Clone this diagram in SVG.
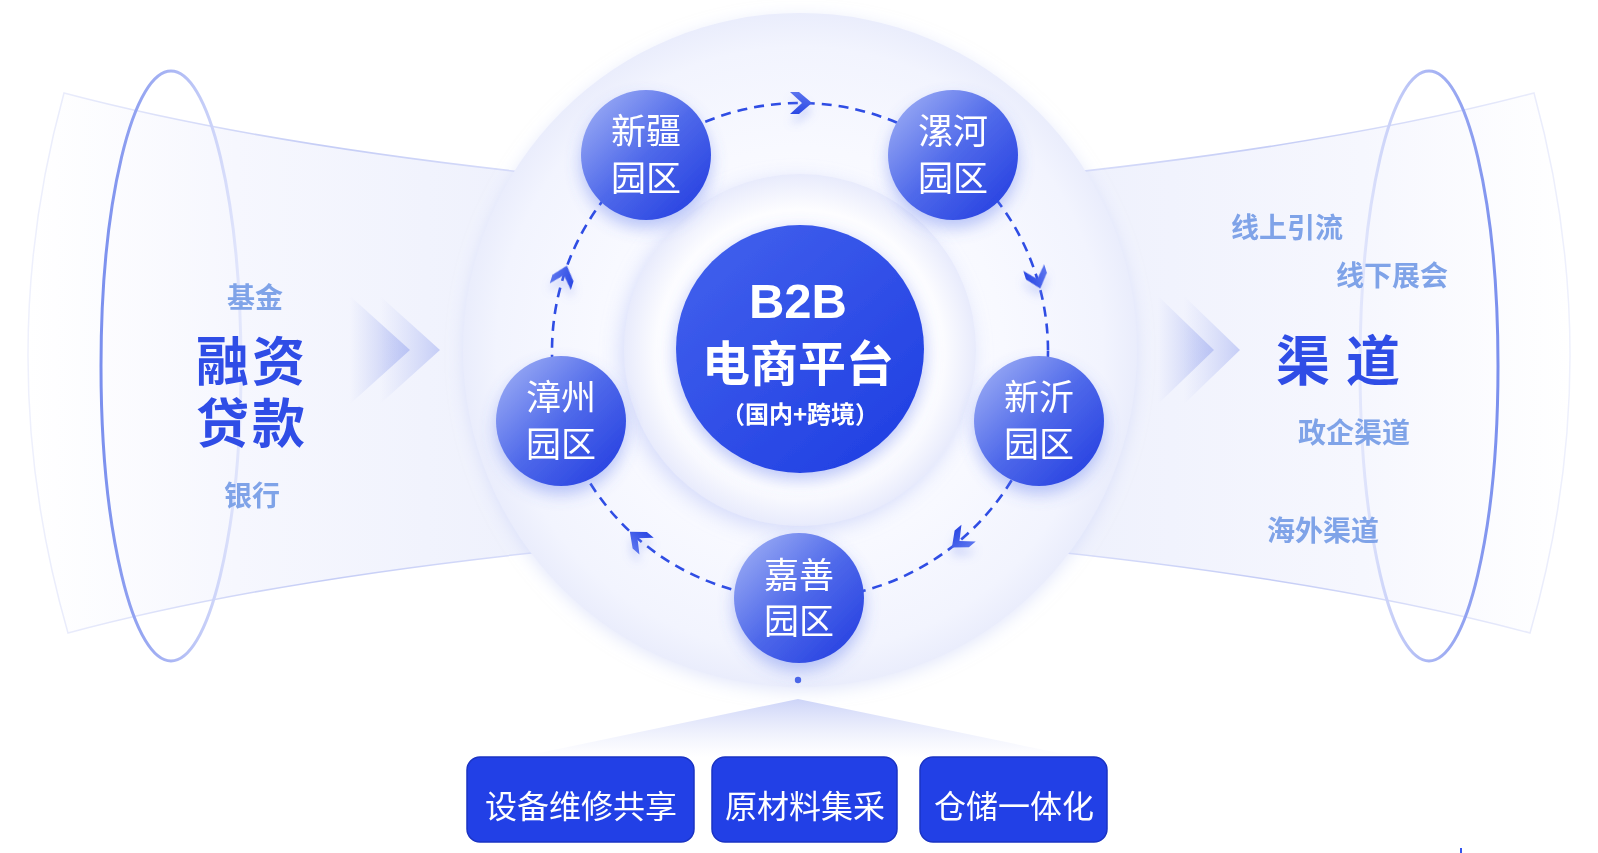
<svg xmlns="http://www.w3.org/2000/svg" width="1598" height="853" viewBox="0 0 1598 853">
<defs>
<style>
.cjk{font-family:"Noto Sans CJK SC","Noto Sans",sans-serif;}
.big{font-size:54px;font-weight:700;fill:#2f4de6;}
.fin{font-family:"Liberation Sans","Noto Sans CJK SC",sans-serif;font-size:53px;font-weight:700;fill:#2f4de6;letter-spacing:3px;}
.sub{font-size:28px;font-weight:700;fill:#7fa3e8;}
.node{font-size:35px;font-weight:400;fill:#ffffff;}
.box{fill:#2240e6;stroke:#1a33c4;stroke-width:1.5;}
.boxt{font-size:32px;font-weight:400;fill:#ffffff;}
.ring{fill:none;stroke:#2f4de4;stroke-width:2.6;stroke-dasharray:10 7;}
.arrow{fill:url(#arrG);}
</style>
<linearGradient id="funG" x1="0" y1="0" x2="1" y2="0">
<stop offset="0" stop-color="#ffffff" stop-opacity="0.9"/>
<stop offset="0.35" stop-color="#f6f7fe"/>
<stop offset="1" stop-color="#eceffc"/>
</linearGradient>
<linearGradient id="funS" x1="0" y1="0" x2="1" y2="0">
<stop offset="0" stop-color="#eef0fc"/>
<stop offset="0.5" stop-color="#c5cdf6"/>
<stop offset="1" stop-color="#dfe3fb"/>
</linearGradient>
<linearGradient id="ellL" x1="0" y1="0" x2="1" y2="0">
<stop offset="0" stop-color="#7b90ee"/>
<stop offset="0.5" stop-color="#aab6f4"/>
<stop offset="1" stop-color="#e3e7fc"/>
</linearGradient>
<linearGradient id="ellR" x1="1" y1="0" x2="0" y2="0">
<stop offset="0" stop-color="#7b90ee"/>
<stop offset="0.5" stop-color="#aab6f4"/>
<stop offset="1" stop-color="#e3e7fc"/>
</linearGradient>
<linearGradient id="chevL" x1="0" y1="0" x2="1" y2="0">
<stop offset="0" stop-color="#c3cbf5" stop-opacity="0"/>
<stop offset="1" stop-color="#b7c1f4"/>
</linearGradient>
<radialGradient id="outerG" cx="0.5" cy="0.5" r="0.5">
<stop offset="0" stop-color="#ffffff"/>
<stop offset="0.6" stop-color="#f8f9ff"/>
<stop offset="0.9" stop-color="#f2f4fe"/>
<stop offset="1" stop-color="#eaedfc"/>
</radialGradient>
<radialGradient id="innerG" cx="0.5" cy="0.5" r="0.5">
<stop offset="0" stop-color="#ffffff"/>
<stop offset="0.8" stop-color="#fdfdff"/>
<stop offset="1" stop-color="#e8ebfc"/>
</radialGradient>
<linearGradient id="centerG" x1="0.15" y1="0.1" x2="0.85" y2="0.9">
<stop offset="0" stop-color="#3f5eec"/>
<stop offset="1" stop-color="#2241e3"/>
</linearGradient>
<linearGradient id="nodeG" x1="0.1" y1="0.15" x2="0.85" y2="0.9">
<stop offset="0" stop-color="#91a3f3"/>
<stop offset="0.5" stop-color="#4f69ea"/>
<stop offset="1" stop-color="#2a45e2"/>
</linearGradient>
<linearGradient id="arrG" x1="0" y1="0" x2="0" y2="1">
<stop offset="0" stop-color="#5b74ef"/>
<stop offset="1" stop-color="#2b49e4"/>
</linearGradient>
<linearGradient id="fanG" x1="0" y1="0" x2="0" y2="1">
<stop offset="0" stop-color="#cdd4f8"/>
<stop offset="1" stop-color="#ffffff" stop-opacity="0.6"/>
</linearGradient>
<filter id="nodeSh" x="-40%" y="-40%" width="180%" height="190%">
<feDropShadow dx="0" dy="8" stdDeviation="8" flood-color="#5a74ee" flood-opacity="0.4"/>
</filter>
<filter id="centerSh" x="-30%" y="-30%" width="160%" height="170%">
<feDropShadow dx="0" dy="6" stdDeviation="9" flood-color="#5f79f0" flood-opacity="0.45"/>
</filter>
<filter id="ringSh" x="-20%" y="-20%" width="140%" height="140%">
<feDropShadow dx="-4" dy="6" stdDeviation="10" flood-color="#aab6f5" flood-opacity="0.45"/>
</filter>
<filter id="outerSh" x="-10%" y="-10%" width="120%" height="120%">
<feDropShadow dx="0" dy="4" stdDeviation="8" flood-color="#c9d1f7" flood-opacity="0.5"/>
</filter>
<filter id="arrSh" x="-150%" y="-150%" width="400%" height="400%">
<feDropShadow dx="0" dy="8" stdDeviation="5" flood-color="#8296f1" flood-opacity="0.35"/>
</filter>
<path id="arrowHead" d="M 12 0 L -1 -11 L -10 -11 L 2 0 L -10 11 L -1 11 Z"/>
</defs>

<rect x="0" y="0" width="1598" height="853" fill="#ffffff"/>

<!-- funnels -->
<g id="funnel-left">
<path d="M 64 93 Q 280 150 620 182 L 620 544 Q 280 576 68 633 Q -10 362 64 93 Z" fill="url(#funG)" stroke="url(#funS)" stroke-width="1.5"/>
</g>
<g id="funnel-right" transform="translate(1598,0) scale(-1,1)">
<path d="M 64 93 Q 280 150 620 182 L 620 544 Q 280 576 68 633 Q -10 362 64 93 Z" fill="url(#funG)" stroke="url(#funS)" stroke-width="1.5"/>
</g>

<g id="ellipse-left"><ellipse cx="171" cy="366" rx="70" ry="295" fill="none" stroke="url(#ellL)" stroke-width="3"/></g>
<g id="ellipse-right"><ellipse cx="1429" cy="366" rx="69" ry="295" fill="none" stroke="url(#ellR)" stroke-width="3"/></g>

<g id="chevrons-left">
<polygon points="350,296 410,350 350,404" fill="url(#chevL)"/>
<polygon points="380,296 440,350 380,404" fill="url(#chevL)" opacity="0.75"/>
</g>
<g id="chevrons-right">
<polygon points="1158,296 1214,350 1158,404" fill="url(#chevL)"/>
<polygon points="1184,296 1240,350 1184,404" fill="url(#chevL)" opacity="0.75"/>
</g>

<!-- outer circle -->
<g id="outer-circle">
<circle cx="800" cy="350" r="337" fill="url(#outerG)" filter="url(#outerSh)"/>
</g>

<!-- fan to boxes -->
<g id="fan">
<polygon points="798,699 520,757 1078,757" fill="url(#fanG)"/>
<circle cx="798" cy="680" r="3.2" fill="#4a66e8"/>
</g>

<g id="inner-ring">
<circle cx="800" cy="350" r="176" fill="url(#innerG)" filter="url(#ringSh)"/>
</g>

<!-- connectors -->
<g id="connectors">
<circle class="ring" cx="800" cy="351" r="248"/>
<g filter="url(#arrSh)">
<use href="#arrowHead" class="arrow" transform="translate(800,103) rotate(0)"/>
<use href="#arrowHead" class="arrow" transform="translate(1036.7,277.1) rotate(72.6)"/>
<use href="#arrowHead" class="arrow" transform="translate(961,539.6) rotate(139.5)"/>
<use href="#arrowHead" class="arrow" transform="translate(639,539.6) rotate(220.5)"/>
<use href="#arrowHead" class="arrow" transform="translate(563.3,277.1) rotate(287.4)"/>
</g>
</g>

<!-- center node -->
<g id="node-center">
<circle cx="800" cy="349" r="124" fill="url(#centerG)" filter="url(#centerSh)"/>
<text x="800" text-anchor="middle" fill="#ffffff" font-weight="700">
<tspan x="800" y="318" font-family="'Liberation Sans',Arial,sans-serif" font-size="49">B2B</tspan>
<tspan class="cjk" x="800" y="381" font-size="48">电商平台</tspan>
<tspan class="cjk" x="800" y="423" font-size="24">（国内+跨境）</tspan>
</text>
</g>

<g id="node-xinjiang">
<circle cx="646" cy="155" r="65" fill="url(#nodeG)" filter="url(#nodeSh)"/>
<text class="cjk node" text-anchor="middle"><tspan x="646" y="144">新疆</tspan><tspan x="646" y="191">园区</tspan></text>
</g>
<g id="node-luohe">
<circle cx="953" cy="155" r="65" fill="url(#nodeG)" filter="url(#nodeSh)"/>
<text class="cjk node" text-anchor="middle"><tspan x="953" y="144">漯河</tspan><tspan x="953" y="191">园区</tspan></text>
</g>
<g id="node-zhangzhou">
<circle cx="561" cy="421" r="65" fill="url(#nodeG)" filter="url(#nodeSh)"/>
<text class="cjk node" text-anchor="middle"><tspan x="561" y="410">漳州</tspan><tspan x="561" y="457">园区</tspan></text>
</g>
<g id="node-xinyi">
<circle cx="1039" cy="421" r="65" fill="url(#nodeG)" filter="url(#nodeSh)"/>
<text class="cjk node" text-anchor="middle"><tspan x="1039" y="410">新沂</tspan><tspan x="1039" y="457">园区</tspan></text>
</g>
<g id="node-jiashan">
<circle cx="799" cy="598" r="65" fill="url(#nodeG)" filter="url(#nodeSh)"/>
<text class="cjk node" text-anchor="middle"><tspan x="799" y="588">嘉善</tspan><tspan x="799" y="634">园区</tspan></text>
</g>

<!-- left texts -->
<g id="finance">
<text class="cjk sub" x="255" y="296" text-anchor="middle" dominant-baseline="central">基金</text>
<text class="fin" text-anchor="middle"><tspan x="252" y="381">融资</tspan><tspan x="252" y="443">贷款</tspan></text>
<text class="cjk sub" x="252" y="494" text-anchor="middle" dominant-baseline="central">银行</text>
</g>

<!-- right texts -->
<g id="channels">
<text class="cjk sub" x="1287" y="226" text-anchor="middle" dominant-baseline="central">线上引流</text>
<text class="cjk sub" x="1392" y="274" text-anchor="middle" dominant-baseline="central">线下展会</text>
<text class="cjk big" x="1346" y="357" text-anchor="middle" dominant-baseline="central" letter-spacing="16">渠道</text>
<text class="cjk sub" x="1354" y="431" text-anchor="middle" dominant-baseline="central">政企渠道</text>
<text class="cjk sub" x="1323" y="529" text-anchor="middle" dominant-baseline="central">海外渠道</text>
</g>

<!-- bottom boxes -->
<g id="box-equipment">
<rect class="box" x="467" y="757" width="227" height="85" rx="13"/>
<text class="cjk boxt" x="581" y="804" text-anchor="middle" dominant-baseline="central">设备维修共享</text>
</g>
<g id="box-material">
<rect class="box" x="712" y="757" width="185" height="85" rx="13"/>
<text class="cjk boxt" x="805" y="804" text-anchor="middle" dominant-baseline="central">原材料集采</text>
</g>
<g id="box-storage">
<rect class="box" x="920" y="757" width="187" height="85" rx="13"/>
<text class="cjk boxt" x="1014" y="804" text-anchor="middle" dominant-baseline="central">仓储一体化</text>
</g>

<rect x="1460" y="848" width="2" height="5" fill="#3355ee"/>
</svg>
